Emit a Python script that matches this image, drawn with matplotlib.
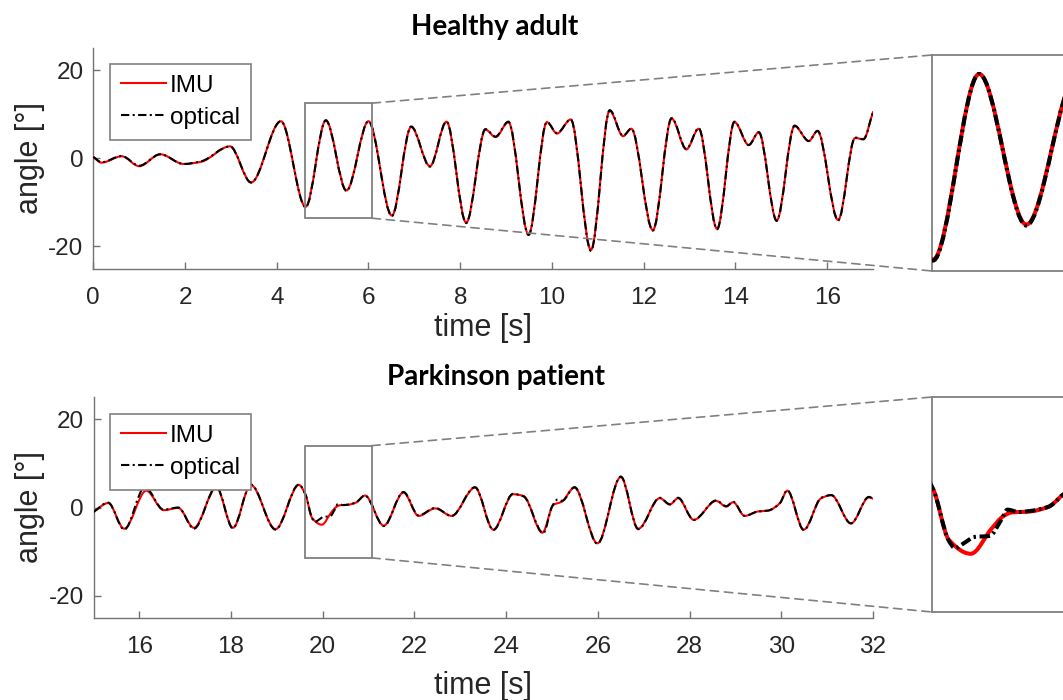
import numpy as np
import matplotlib
matplotlib.use("Agg")
import matplotlib.pyplot as plt
from matplotlib.path import Path
from matplotlib.patches import PathPatch, Rectangle, ConnectionPatch
from matplotlib.lines import Line2D

plt.rcParams['font.family'] = ['Liberation Sans', 'DejaVu Sans']
plt.rcParams['axes.unicode_minus'] = False

# ---------------- data ----------------
titles = ["Healthy adult", "Parkinson patient"]
series_labels = ["IMU", "optical"]

imu_top_t = [0.00, 0.18, 0.62, 1.00, 1.46, 1.97, 2.35, 2.98, 3.44, 4.09, 4.63, 5.07, 5.52,
             6.00, 6.51, 6.93, 7.34, 7.70, 8.13, 8.55, 8.77, 9.05, 9.49, 9.89, 10.11, 10.41,
             10.85, 11.26, 11.55, 11.73, 12.20, 12.61, 12.93, 13.20, 13.60, 13.98, 14.29,
             14.51, 14.90, 15.29, 15.60, 15.79, 16.24, 16.61, 16.79, 17.00]
imu_top_v = [0.3, -1.0, 0.45, -1.8, 0.9, -1.3, -0.8, 2.7, -5.5, 8.4, -11.0, 8.6, -7.3,
             8.4, -13.0, 7.1, -1.8, 8.3, -14.6, 6.5, 4.8, 8.2, -17.3, 8.2, 5.6, 8.8,
             -20.8, 10.8, 5.0, 6.7, -16.3, 9.0, 2.0, 6.7, -16.0, 8.2, 3.0,
             5.9, -14.1, 7.3, 3.9, 6.2, -14.0, 4.6, 4.3, 10.5]

optical_top_t = [0.00, 0.18, 0.62, 1.00, 1.46, 1.97, 2.35, 2.98, 3.44, 4.09, 4.63, 5.07, 5.52,
                 6.00, 6.51, 6.93, 7.34, 7.70, 8.13, 8.55, 8.77, 9.05, 9.49, 9.89, 10.11, 10.41,
                 10.85, 11.26, 11.55, 11.73, 12.20, 12.61, 12.93, 13.20, 13.60, 13.98, 14.29,
                 14.51, 14.90, 15.29, 15.60, 15.79, 16.24, 16.61, 16.79, 17.00]
optical_top_v = [0.3, -0.9, 0.5, -1.7, 0.9, -1.3, -0.7, 2.7, -5.5, 8.4, -11.1, 8.6, -7.4,
                 8.4, -13.1, 7.2, -1.9, 8.3, -14.7, 6.6, 4.9, 8.3, -17.4, 8.2, 5.7, 8.8,
                 -21.0, 10.9, 5.1, 6.7, -16.4, 9.1, 2.1, 6.8, -16.1, 8.3, 3.0,
                 5.9, -14.2, 7.4, 3.9, 6.2, -14.1, 4.7, 4.3, 10.5]

imu_bot_t = [15.00, 15.32, 15.67, 16.15, 16.53, 16.85, 17.19, 17.68, 18.04, 18.43, 18.97,
             19.48, 19.62, 19.77, 19.98, 20.18, 20.29, 20.37, 20.54, 20.72, 20.92, 21.33,
             21.76, 22.09, 22.45, 22.81, 23.32, 23.72, 24.15, 24.38, 24.79, 25.03, 25.21,
             25.49, 25.99, 26.50, 26.88, 27.35, 27.57, 27.75, 28.09, 28.58, 28.80, 28.95,
             29.20, 29.49, 29.71, 29.97, 30.13, 30.49, 30.87, 31.09, 31.52, 31.91, 32.00]
imu_bot_v = [-1.0, 1.0, -4.8, 3.8, -0.6, -0.1, -4.6, 4.5, -4.6, 5.1, -4.9,
             5.1, 3.0, -2.4, -3.9, -1.2, 0.1, 0.5, 0.6, 1.1, 2.7, -4.1,
             3.4, -1.9, -0.2, -1.9, 4.5, -5.0, 3.0, 2.6, -5.7, 0.6, 1.3,
             4.5, -8.1, 6.9, -4.8, 2.1, 0.7, 2.1, -2.8, 1.5, 0.2, 1.2,
             -1.9, -0.9, -0.7, 1.0, 3.8, -5.0, 2.1, 2.8, -3.6, 2.3, 2.0]

optical_bot_t = [15.00, 15.32, 15.67, 16.12, 16.53, 16.85, 17.19, 17.68, 18.04, 18.43, 18.97,
                 19.48, 19.62, 19.77, 19.83, 19.91, 20.02, 20.16, 20.27, 20.33, 20.44, 20.54,
                 20.72, 20.92, 21.33, 21.76, 22.09, 22.45, 22.81, 23.32, 23.72, 24.15, 24.38,
                 24.81, 25.00, 25.12, 25.22, 25.49, 25.99, 26.50, 26.88, 27.35, 27.57, 27.75,
                 28.09, 28.58, 28.80, 28.95, 29.20, 29.49, 29.71, 29.97, 30.13, 30.49, 30.87,
                 31.09, 31.52, 31.91, 32.00]
optical_bot_v = [-1.0, 1.1, -5.0, 4.6, -0.5, 0.0, -4.8, 4.7, -4.7, 5.2, -5.0,
                 5.2, 3.0, -2.5, -3.3, -2.8, -2.1, -2.0, -0.3, 0.8, 0.55, 0.65,
                 1.1, 2.7, -4.2, 3.5, -1.8, -0.1, -1.9, 4.6, -5.1, 3.1, 2.5,
                 -5.8, 0.2, 1.8, 1.5, 4.6, -8.2, 7.0, -4.9, 2.2, 0.7, 2.2,
                 -2.8, 1.6, 0.3, 1.3, -1.9, -0.9, -0.7, 1.0, 3.9, -5.1, 2.2,
                 2.8, -3.6, 2.4, 2.0]

top_xlim = (0, 17)
bot_xlim = (15, 32)
ylim_main = (-25, 25)
top_xticks = [0, 2, 4, 6, 8, 10, 12, 14, 16]
bot_xticks = [16, 18, 20, 22, 24, 26, 28, 30, 32]
yticks = [-20, 0, 20]

top_zoom_x = (4.62, 6.08)
top_zoom_y = (-13.6, 12.5)
top_inset_ylim = (-12.2, 10.6)
bot_zoom_x = (19.61, 21.07)
bot_zoom_y = (-11.4, 14.0)
bot_inset_ylim = (-10.1, 12.8)

# ---------------- helpers ----------------
W, H = 1063, 700
fig = plt.figure(figsize=(W / 100, H / 100), dpi=100)


def fx(px):
    return px / W


def fy(py):
    return 1 - py / H


def smooth_path(t, v):
    """Monotone cubic (PCHIP-style) Bezier path through the read points."""
    t = np.asarray(t, float)
    v = np.asarray(v, float)
    h = np.diff(t)
    d = np.diff(v) / h
    m = np.zeros_like(v)
    for i in range(1, len(v) - 1):
        if d[i - 1] * d[i] > 0:
            w1 = 2 * h[i] + h[i - 1]
            w2 = h[i] + 2 * h[i - 1]
            m[i] = (w1 + w2) / (w1 / d[i - 1] + w2 / d[i])
    m[0] = d[0]
    m[-1] = d[-1]
    verts = [(t[0], v[0])]
    codes = [Path.MOVETO]
    for i in range(len(h)):
        verts += [(t[i] + h[i] / 3, v[i] + m[i] * h[i] / 3),
                  (t[i + 1] - h[i] / 3, v[i + 1] - m[i + 1] * h[i] / 3),
                  (t[i + 1], v[i + 1])]
        codes += [Path.CURVE4] * 3
    return Path(verts, codes)


RED = '#ff0000'
BLK = '#000000'
GRAY = '#808080'
AXC = '#737373'
TXT = '#262626'


def draw_series(ax, t1, v1, t2, v2, lw, dash):
    ax.add_patch(PathPatch(smooth_path(t1, v1), fill=False, edgecolor=RED, lw=lw,
                           capstyle='round', joinstyle='round', zorder=3))
    ax.add_patch(PathPatch(smooth_path(t2, v2), fill=False, edgecolor=BLK, lw=lw,
                           linestyle=(0, dash), zorder=4))


def style_main(ax, xlim, xticks):
    ax.set_xlim(*xlim)
    ax.set_ylim(*ylim_main)
    ax.set_xticks(xticks)
    ax.set_yticks(yticks)
    for s in ['top', 'right']:
        ax.spines[s].set_visible(False)
    for s in ['left', 'bottom']:
        ax.spines[s].set_color(AXC)
        ax.spines[s].set_linewidth(1.0)
    ax.tick_params(axis='both', direction='in', length=5, width=1.0, color=AXC,
                   labelsize=17.5, labelcolor=TXT)
    ax.tick_params(axis='x', pad=13)
    ax.tick_params(axis='y', pad=7)


def style_inset(ax, xlim, ylim):
    ax.set_xlim(*xlim)
    ax.set_ylim(*ylim)
    ax.set_xticks([])
    ax.set_yticks([])
    for s in ax.spines.values():
        s.set_color(GRAY)
        s.set_linewidth(1.3)


# ---------------- axes ----------------
ax1 = fig.add_axes([fx(93.3), fy(268.5), fx(873) - fx(93.3), (268.5 - 48) / H])
ax2 = fig.add_axes([fx(93.5), fy(618), fx(873) - fx(93.5), (618 - 397) / H])
in1 = fig.add_axes([fx(932), fy(271), 153 / W, 216 / H])
in2 = fig.add_axes([fx(932), fy(612), 153 / W, 215 / H])

main_dash = (4, 1.6, 1, 1.6)
inset_dash = (2.6, 0.9, 0.6, 0.9)

draw_series(ax1, imu_top_t, imu_top_v, optical_top_t, optical_top_v, 1.5, main_dash)
draw_series(ax2, imu_bot_t, imu_bot_v, optical_bot_t, optical_bot_v, 1.5, main_dash)
draw_series(in1, imu_top_t, imu_top_v, optical_top_t, optical_top_v, 2.9, inset_dash)
draw_series(in2, imu_bot_t, imu_bot_v, optical_bot_t, optical_bot_v, 2.9, inset_dash)

style_main(ax1, top_xlim, top_xticks)
style_main(ax2, bot_xlim, bot_xticks)
style_inset(in1, top_zoom_x, top_inset_ylim)
style_inset(in2, bot_zoom_x, bot_inset_ylim)

# zoom boxes and connectors
for ax, ins, zx, zy in [(ax1, in1, top_zoom_x, top_zoom_y), (ax2, in2, bot_zoom_x, bot_zoom_y)]:
    ax.add_patch(Rectangle((zx[0], zy[0]), zx[1] - zx[0], zy[1] - zy[0], fill=False,
                           edgecolor=GRAY, lw=1.3, zorder=5))
    for yb, ya in [(zy[1], 1), (zy[0], 0)]:
        con = ConnectionPatch(xyA=(zx[1], yb), coordsA=ax.transData,
                              xyB=(0, ya), coordsB=ins.transAxes,
                              color=GRAY, lw=1.2, linestyle=(0, (5, 3.5)))
        fig.add_artist(con)

# legends
for ax, ytop in [(ax1, 64), (ax2, 414)]:
    handles = [Line2D([], [], color=RED, lw=1.5),
               Line2D([], [], color=BLK, lw=1.5, linestyle=(0, main_dash))]
    leg = ax.legend(handles, series_labels, loc='upper left',
                    bbox_to_anchor=(fx(110), fy(ytop)), bbox_transform=fig.transFigure,
                    borderaxespad=0, fancybox=False, framealpha=1, fontsize=17.5,
                    handlelength=1.85, handletextpad=0.17, labelspacing=0.4,
                    borderpad=0.45)
    leg.get_frame().set_edgecolor(GRAY)
    leg.get_frame().set_linewidth(1.2)
    leg.set_zorder(10)

# titles and axis labels
fig.text(fx(495), fy(27), titles[0], ha='center', va='center', fontsize=20,
         fontweight='bold', family='Lato', color='black')
fig.text(fx(496), fy(377), titles[1], ha='center', va='center', fontsize=20,
         fontweight='bold', family='Lato', color='black')
for yc in [158, 507]:
    fig.text(fx(30), fy(yc), 'angle [°]', ha='center', va='center', rotation=90,
             fontsize=22, color=TXT)
for yc in [328, 686]:
    fig.text(fx(483), fy(yc), 'time [s]', ha='center', va='center', fontsize=22, color=TXT)

fig.savefig('out.png', dpi=100)
